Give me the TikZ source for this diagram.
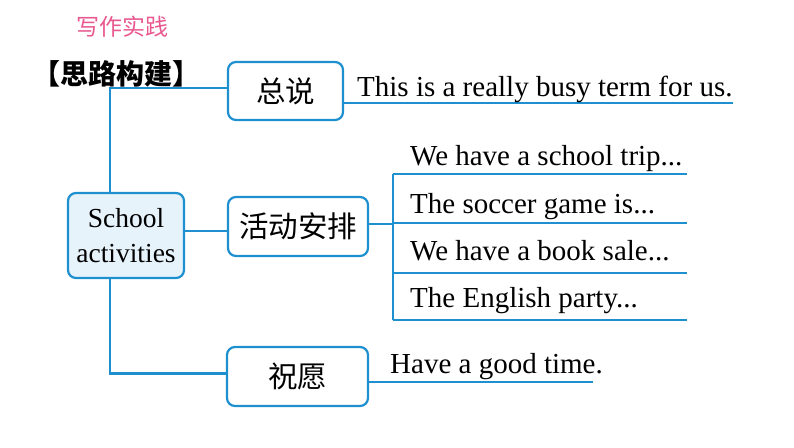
\documentclass[tikz,border=0pt]{standalone}
\usepackage{fontspec}
\setmainfont{Liberation Serif}
\newfontfamily\cjk{Noto Sans CJK SC}
\definecolor{lineblue}{HTML}{1E8FCF}
\definecolor{fillblue}{HTML}{E6F3FB}
\definecolor{titlepink}{HTML}{E8588E}
\begin{document}
\begin{tikzpicture}[x=1pt,y=-1pt,
  box/.style={draw=lineblue, line width=2.2pt, rounded corners=8pt, inner sep=0pt},
  conn/.style={draw=lineblue, line width=2.8pt},
  cn/.style={font=\cjk\fontsize{29.5}{32}\selectfont},
  en/.style={font=\fontsize{29}{31}\selectfont, anchor=base west, inner sep=0pt}]
\useasboundingbox (0,0) rectangle (794,447);
% titles
\node[font=\cjk\fontsize{23}{26}\selectfont, text=titlepink] (title) at (122,27) {写作实践};
\node[font=\cjk\bfseries\fontsize{28}{30}\selectfont] (head) at (116,74) {【思路构建】};
% boxes
\node[box,cn,minimum width=115pt,minimum height=58pt] (zs) at (285.5,91) {总说};
\node[box,fill=fillblue,minimum width=116pt,minimum height=85pt,align=center,
      font=\fontsize{27.5}{35}\selectfont] (sa) at (126,235.5) {School\\activities};
\node[box,cn,minimum width=140pt,minimum height=59pt] (hd) at (298,226.5) {活动安排};
\node[box,cn,minimum width=141pt,minimum height=59pt] (zy) at (297.5,376.5) {祝愿};
% spine
\coordinate (spine) at (110,0);
\draw[conn] ([yshift=3pt]zs.west) -| (sa.north -| spine);
\draw[conn] (sa.south -| spine) |- ([yshift=3pt]zy.west);
\draw[conn] ([yshift=-4.5pt]hd.west -| sa.east) -- ([yshift=-4.5pt]hd.west);
% 总说 line
\coordinate (zsend) at (733,103);
\draw[conn] ([yshift=-12pt]zs.east) -- (zsend);
\node[en] (t1) at (357,96) {This is a really busy term for us.};
% bracket
\coordinate (bm) at (393,224);
\coordinate (b1) at (393,174);
\coordinate (b2) at (393,223);
\coordinate (b3) at (393,273);
\coordinate (b4) at (393,320);
\coordinate (e1) at (687,174);
\coordinate (e2) at (687,223);
\coordinate (e3) at (687,273);
\coordinate (e4) at (687,320);
\draw[conn] ([yshift=2.5pt]hd.east) -- (bm);
\draw[conn] (b1) -- (b4);
\draw[conn] (b1) -- (e1);
\draw[conn] (b2) -- (e2);
\draw[conn] (b3) -- (e3);
\draw[conn] (b4) -- (e4);
\node[en] (a1) at (410,165) {We have a school trip...};
\node[en] (a2) at (410,213) {The soccer game is...};
\node[en] (a3) at (410,260) {We have a book sale...};
\node[en] (a4) at (410,307) {The English party...};
% 祝愿 line
\coordinate (zyend) at (593,382);
\draw[conn] ([yshift=-5.5pt]zy.east) -- (zyend);
\node[en] (w1) at (390,373) {Have a good time.};
\end{tikzpicture}
\end{document}
